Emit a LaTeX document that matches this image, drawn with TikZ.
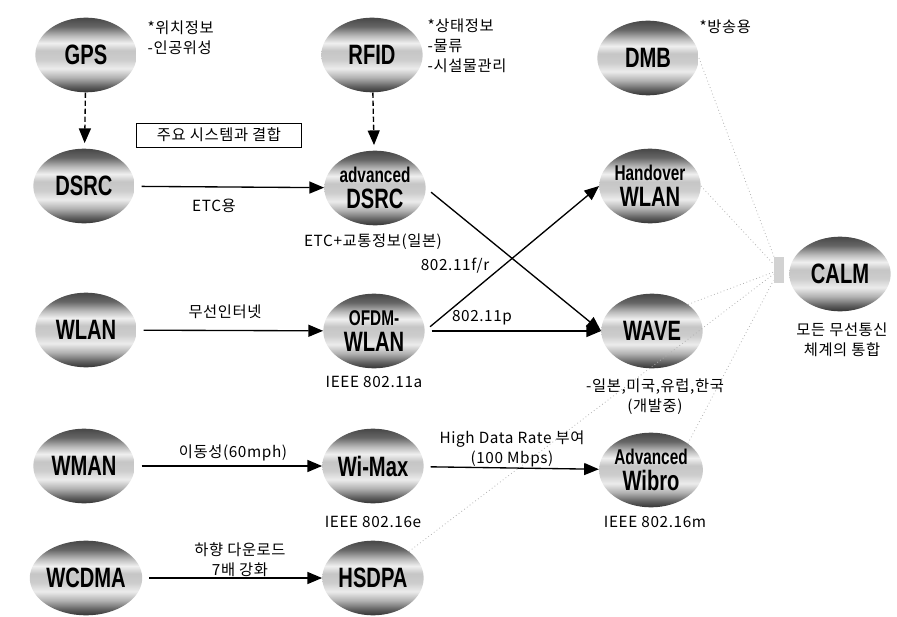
\documentclass[tikz,border=0pt]{standalone}
\usepackage{fontspec}
\setmainfont{Liberation Sans}
\newfontfamily\krfont[LetterSpace=4]{Noto Sans CJK KR}
\newfontfamily\sysfont[FakeStretch=0.72]{Liberation Sans}
\usetikzlibrary{shapes.geometric,arrows.meta}

\pgfdeclareverticalshading{orb}{100bp}{color(0bp)=(black!80); color(25bp)=(black!80);
  color(29bp)=(black!62); color(35bp)=(gray!60); color(41bp)=(gray!15); color(47bp)=(gray!40);
  color(53bp)=(gray!45); color(58bp)=(gray!12); color(63bp)=(gray!55); color(69bp)=(black!60);
  color(75bp)=(black!72); color(100bp)=(black!72)}

\def\sml#1{{\fontsize{16}{17}\selectfont #1}}

\begin{document}
\begin{tikzpicture}[x=0.75pt,y=-0.75pt,
    sys/.style={ellipse,shading=orb,minimum width=76pt,minimum height=56pt,inner sep=0pt,
      align=center,font=\sysfont\bfseries\fontsize{21}{19.5}\selectfont},
    note/.style={font=\krfont\fontsize{11.5}{15}\selectfont,inner sep=1pt,align=center},
    link/.style={-{Triangle[length=11pt,width=9pt]},line width=1pt,shorten <=5pt},
    feed/.style={link,dash pattern=on 4pt off 2pt,shorten <=0pt,shorten >=4pt},
    faint/.style={gray!60,dotted,line width=0.6pt}]
  \useasboundingbox (0,0) rectangle (897,617);

  % the systems
  \node[sys] (gps)   at (86,55)   {GPS};
  \node[sys] (rfid)  at (372,55)  {RFID};
  \node[sys] (dmb)   at (648,58)  {DMB};
  \node[sys] (dsrc)  at (84,186)  {DSRC};
  \node[sys] (adsrc) at (375,188) {\sml{advanced}\\DSRC};
  \node[sys] (hwlan) at (650,186) {\sml{Handover}\\WLAN};
  \node[sys] (wlan)  at (86,330)  {WLAN};
  \node[sys] (owlan) at (374,331) {\sml{OFDM-}\\WLAN};
  \node[sys] (wave)  at (652,331) {WAVE};
  \node[sys] (calm)  at (840,274) {CALM};
  \node[sys] (wman)  at (84,466)  {WMAN};
  \node[sys] (wimax) at (373,466) {Wi-Max};
  \node[sys] (wibro) at (651,470) {\sml{Advanced}\\Wibro};
  \node[sys] (wcdma) at (86,578)  {WCDMA};
  \node[sys] (hsdpa) at (373,578) {HSDPA};

  % notes
  \node[note,align=left,anchor=west] (gpsnote) at (146,38) {*위치정보\\-인공위성};
  \node[note,align=left,anchor=west] (rfidnote) at (426,46) {*상태정보\\-물류\\-시설물관리};
  \node[note,align=left,anchor=west] (dmbnote) at (698,27) {*방송용};
  \node[note,draw,line width=0.6pt,minimum width=124pt,minimum height=18pt] (tag) at (219,135) {주요 시스템과 결합};
  \node[note] at (214,206) {ETC용};
  \node[note] at (373,242) {ETC+교통정보(일본)};
  \node[note] at (455,266) {802.11f/r};
  \node[note] at (482,318) {802.11p};
  \node[note] at (225,312) {무선인터넷};
  \node[note] at (374,382) {IEEE 802.11a};
  \node[note] at (655,397) {-일본,미국,유럽,한국\\(개발중)};
  \node[note] at (842,340) {모든 무선통신\\체계의 통합};
  \node[note] at (233,453) {이동성(60mph)};
  \node[note] at (512,449) {High Data Rate 부여\\(100 Mbps)};
  \node[note] at (373,522) {IEEE 802.16e};
  \node[note] at (655,522) {IEEE 802.16m};
  \node[note] at (240,560) {하향 다운로드\\7배 강화};

  % links
  \draw[feed] (gps) -- (dsrc);
  \draw[feed] (rfid) -- (adsrc);
  \draw[link] (dsrc) -- (adsrc);
  \draw[link] (adsrc.east) -- (wave.west);
  \draw[link] (owlan.east) -- (hwlan.west);
  \draw[link] (owlan) -- (wave);
  \draw[link] (wlan) -- (owlan);
  \draw[link] (wman) -- (wimax);
  \draw[link] (wimax) -- (wibro);
  \draw[link] (wcdma) -- (hsdpa);

  % towards CALM
  \node[fill=gray!35,minimum width=8pt,minimum height=19pt,inner sep=0pt] (hub) at (779,270) {};
  \draw[faint] (dmb.east) -- (hub);
  \draw[faint] (hwlan.east) -- (hub);
  \draw[faint] (wave.north east) -- (hub);
  \draw[faint] (wibro.north east) -- (hub);
  \draw[faint] (hsdpa.north east) -- (hub);
\end{tikzpicture}
\end{document}
